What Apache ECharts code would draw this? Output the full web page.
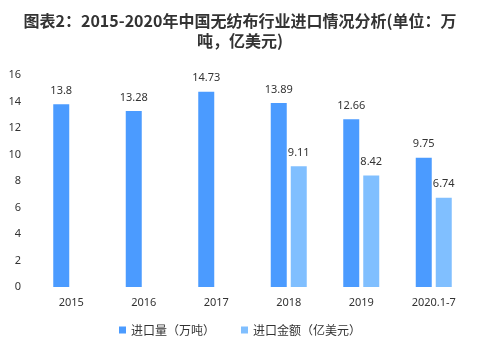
<!DOCTYPE html>
<html><head><meta charset="utf-8">
<script src="https://cdn.jsdelivr.net/npm/echarts@6/dist/echarts.min.js"></script>
<style>html,body{margin:0;padding:0;background:#fff}#c{width:480px;height:355px}</style>
</head><body><div id="c"></div>
<script>
const categories = ['2015','2016','2017','2018','2019','2020.1-7'];
const volume = [13.8, 13.28, 14.73, 13.89, 12.66, 9.75];
const amount = [null, null, null, 9.11, 8.42, 6.74];
const yTicks = {min: 0, max: 16, interval: 2};
const chart = echarts.init(document.getElementById('c'));
chart.setOption({
  animation: false,
  title: {
    text: '图表2：2015-2020年中国无纺布行业进口情况分析(单位：万\n吨，亿美元)',
    left: 'center', top: 6,
    textStyle: {fontFamily: 'Noto Sans CJK SC', fontSize: 16, fontWeight: 'bold', color: '#333', lineHeight: 20}
  },
  legend: {
    bottom: 14, left: 'center', itemWidth: 7, itemHeight: 7, itemGap: 26, icon: 'rect',
    textStyle: {fontFamily: 'Noto Sans CJK SC', fontSize: 12, color: '#333'},
    data: ['进口量（万吨）', '进口金额（亿美元）']
  },
  grid: {left: 35, right: 10, top: 75, bottom: 68},
  xAxis: {
    type: 'category', data: categories,
    axisLine: {show: false}, axisTick: {show: false},
    axisLabel: {color: '#333', fontSize: 11, fontFamily: 'Noto Sans', margin: 10}
  },
  yAxis: {
    type: 'value', min: yTicks.min, max: yTicks.max, interval: yTicks.interval,
    splitLine: {show: false}, axisLine: {show: false}, axisTick: {show: false},
    axisLabel: {color: '#333', fontSize: 11, fontFamily: 'Noto Sans', margin: 14}
  },
  series: [
    {name: '进口量（万吨）', type: 'bar', data: volume, barWidth: 16, barGap: '25%',
     itemStyle: {color: '#4B9BFF'},
     label: {show: true, position: 'top', color: '#333', fontSize: 11, fontFamily: 'Noto Sans', distance: 8}},
    {name: '进口金额（亿美元）', type: 'bar', data: amount, barWidth: 16,
     itemStyle: {color: '#80BFFF'},
     label: {show: true, position: 'top', color: '#333', fontSize: 11, fontFamily: 'Noto Sans', distance: 8}}
  ]
});
</script></body></html>
